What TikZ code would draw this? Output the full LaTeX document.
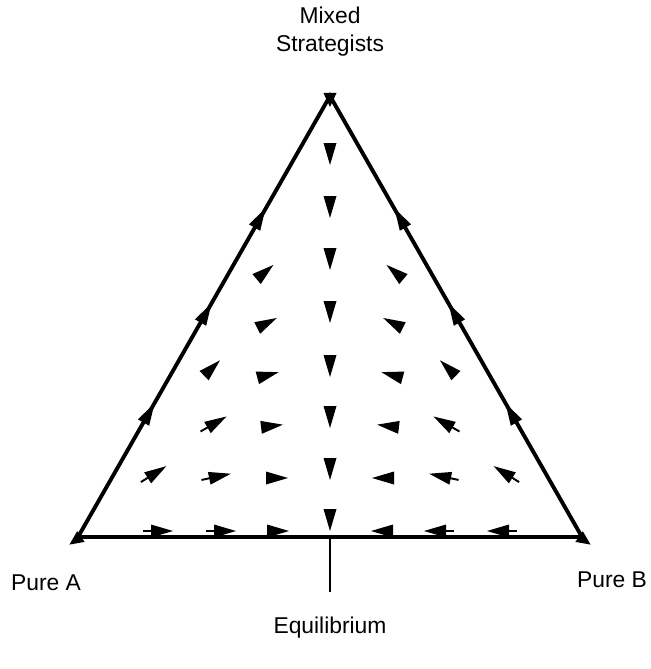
\documentclass[tikz,border=0pt]{standalone}
\usepackage{fontspec}
\setmainfont{Liberation Sans}
\tikzset{
  edge/.style={line width=2.2pt},
  flow/.pic={\fill (11,0) -- (-11,6.5) -- (-11,-6.5) -- cycle;},
  flowtail/.pic={\fill (11,0) -- (-11,6.5) -- (-11,-6.5) -- cycle;
                 \draw[line width=1.1pt] (-8,0) -- (-19,0);},
  corner/.pic={\fill (8,0) -- (-6,6.5) -- (-6,-6.5) -- cycle;},
  lbl/.style={font=\fontsize{13}{16}\selectfont, align=center}
}
\begin{document}
\begin{tikzpicture}[x=0.02cm,y=-0.02cm]
    \useasboundingbox (0,0) rectangle (650,669);

    % corners of the simplex
    \coordinate (mixed) at (330,96);
    \coordinate (pureA) at (78,537);
    \coordinate (pureB) at (582,537);
    \coordinate (eq) at (330,537);
    \coordinate (eqend) at (330,592);

    \draw[edge, line join=miter] (pureA) -- (mixed) -- (pureB) -- cycle;
    \draw[line width=0.8pt] (eq) -- (eqend);

    % corner marks
    \pic[rotate=-90] at (330,99) {corner};
    \pic[rotate=215] at (76,540) {corner};
    \pic[rotate=-35] at (584,540) {corner};

    % centre line, flowing down to the equilibrium
    \foreach \y in {154,207,259,312,366,417,469,520}
      \pic[rotate=-90] at (330,\y) {flow};

    % edges, flowing up to the mixed strategists
    \foreach \x/\y in {260/218,206/313,149/413}{
      \pic[rotate=60.3] at (\x,\y) {flow};
      \pic[rotate=119.7] at (660-\x,\y) {flow};
    }

    % interior field (left half, mirrored to the right)
    \foreach \x/\y/\a in {265/272/40,267/323/27,212/368/44,268/375/15,
                          272/426/7,277/478/0,278/531/0}{
      \pic[rotate=\a] at (\x,\y) {flow};
      \pic[rotate=180-\a] at (660-\x,\y) {flow};
    }
    \foreach \x/\y/\a in {217/422/30,157/472/32,220/476/12,
                          162/531/0,225/531/0}{
      \pic[rotate=\a] at (\x,\y) {flowtail};
      \pic[rotate=180-\a] at (660-\x,\y) {flowtail};
    }

    % Labels
    \node[lbl] (mixedlbl) at (330,32) {Mixed\\Strategists};
    \node[lbl] (purealbl) at (46,583) {Pure A};
    \node[lbl] (pureblbl) at (612,580) {Pure B};
    \node[lbl] (eqlbl) at (330,628) {Equilibrium};
\end{tikzpicture}
\end{document}
